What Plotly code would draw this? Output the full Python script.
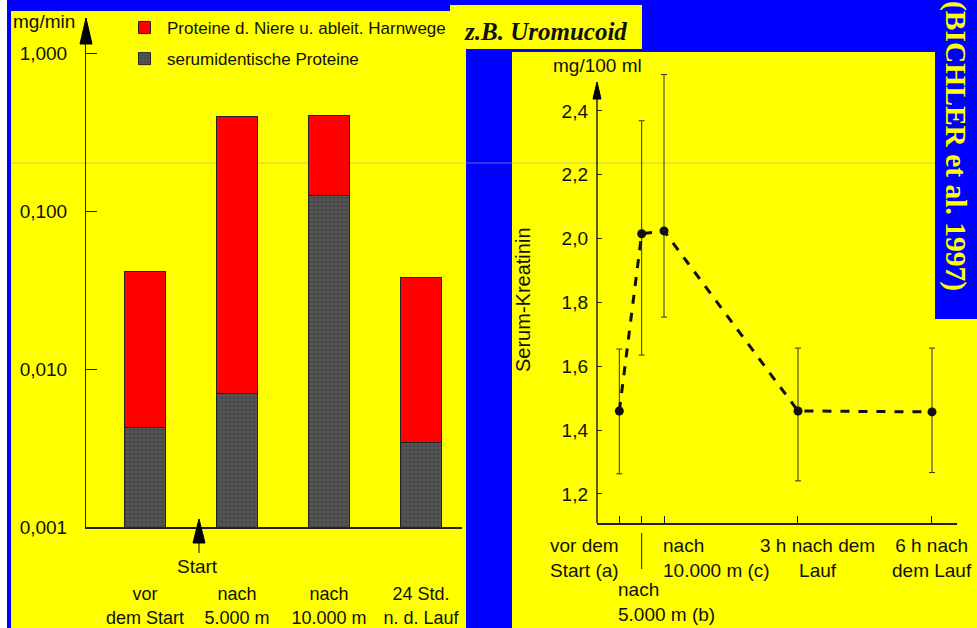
import plotly.graph_objects as go

W, H = 977, 628
BLUE = "#0000FF"
YELLOW = "#FFFF00"
INK = "#111111"
SANS = "Liberation Sans, Arial, sans-serif"
SERIF = "Liberation Serif, Times New Roman, serif"


def px(x):
    return x / W


def py(y):
    return 1 - y / H


# ---------------- left chart data (mg/min, log scale) ----------------
categories = ["vor<br>dem Start", "nach<br>5.000 m", "nach<br>10.000 m", "24 Std.<br>n. d. Lauf"]
serum_proteins = [0.00424, 0.00695, 0.1245, 0.00345]      # serumidentische Proteine
kidney_proteins = [0.0369, 0.392, 0.280, 0.0343]          # Proteine d. Niere u. ableit. Harnwege
left_tickvals = [0.001, 0.01, 0.1, 1.0]
left_ticktext = ["0,001", "0,010", "0,100", "1,000"]

# ---------------- right chart data (Serum-Kreatinin, mg/100 ml) ----------------
time_h = [-1.0, -0.5, 0.0, 3.0, 6.0]
creatinine = [1.46, 2.015, 2.024, 1.46, 1.457]
err_plus = [0.194, 0.354, 0.49, 0.197, 0.20]
err_minus = [0.197, 0.38, 0.27, 0.219, 0.19]
right_tickvals = [1.2, 1.4, 1.6, 1.8, 2.0, 2.2, 2.4]
right_ticktext = ["1,2", "1,4", "1,6", "1,8", "2,0", "2,2", "2,4"]
time_labels = ["vor dem<br>Start (a)", "nach<br>5.000 m (b)", "nach<br>10.000 m (c)",
               "3 h nach dem<br>Lauf", "6 h nach<br>dem Lauf"]

fig = go.Figure()

fig.add_trace(go.Bar(
    x=categories, y=serum_proteins, name="serumidentische Proteine",
    marker=dict(color="#4c4c4c", line=dict(color="#222", width=1),
                pattern=dict(shape=".", fgcolor="#6c6c6c", bgcolor="#4a4a4a",
                             size=4, solidity=0.35)),
    width=0.45, legendgroup="g2", legendrank=2, xaxis="x", yaxis="y",
))
fig.add_trace(go.Bar(
    x=categories, y=kidney_proteins, name="Proteine d. Niere u. ableit. Harnwege",
    marker=dict(color="#FF0000", line=dict(color="#222", width=1)),
    width=0.45, legendgroup="g1", legendrank=1, xaxis="x", yaxis="y",
))

fig.add_trace(go.Scatter(
    x=time_h, y=creatinine, mode="lines+markers", showlegend=False,
    line=dict(color="#111", width=3, dash="dash"),
    marker=dict(color="#111", size=9),
    error_y=dict(type="data", array=err_plus, arrayminus=err_minus,
                 color="#333", thickness=1, width=3),
    xaxis="x2", yaxis="y2", cliponaxis=False,
))

shapes = [
    # white strip on the far left
    dict(type="rect", xref="paper", yref="paper", x0=px(0), x1=px(7), y0=py(628), y1=py(0),
         fillcolor="white", line=dict(width=0), layer="below"),
    # left yellow panel
    dict(type="rect", xref="paper", yref="paper", x0=px(11), x1=px(466), y0=py(628), y1=py(11),
         fillcolor=YELLOW, line=dict(width=0), layer="below"),
    # title box
    dict(type="rect", xref="paper", yref="paper", x0=px(450), x1=px(642), y0=py(49), y1=py(5),
         fillcolor=YELLOW, line=dict(width=0), layer="below"),
    # right yellow panel
    dict(type="rect", xref="paper", yref="paper", x0=px(512), x1=px(935), y0=py(628), y1=py(52),
         fillcolor=YELLOW, line=dict(width=0), layer="below"),
    dict(type="rect", xref="paper", yref="paper", x0=px(934), x1=px(977), y0=py(628), y1=py(319),
         fillcolor=YELLOW, line=dict(width=0), layer="below"),
    # faint horizontal scan line
    dict(type="line", xref="paper", yref="paper", x0=px(11), x1=px(935), y0=py(163), y1=py(163),
         line=dict(color="rgba(170,170,150,0.6)", width=1), layer="below"),
    # left y-axis arrowhead
    dict(type="path", xref="paper", yref="paper",
         path=f"M {px(86)} {py(18)} L {px(80)} {py(44)} L {px(92)} {py(44)} Z",
         fillcolor="black", line=dict(color="black", width=1)),
    # Start arrow
    dict(type="path", xref="paper", yref="paper",
         path=f"M {px(199)} {py(519)} L {px(193)} {py(543)} L {px(205)} {py(543)} Z",
         fillcolor="black", line=dict(color="black", width=1)),
    dict(type="line", xref="paper", yref="paper", x0=px(199), x1=px(199), y0=py(543), y1=py(553),
         line=dict(color="black", width=1)),
    # right y-axis line and arrowhead
    dict(type="line", xref="paper", yref="paper", x0=px(597), x1=px(597), y0=py(523), y1=py(96),
         line=dict(color="#222", width=1.5)),
    dict(type="path", xref="paper", yref="paper",
         path=f"M {px(597)} {py(82)} L {px(593)} {py(99)} L {px(601)} {py(99)} Z",
         fillcolor="black", line=dict(color="black", width=1)),
    # separator tick under label (b)
    dict(type="line", xref="x2", yref="paper", x0=time_h[1], x1=time_h[1], y0=py(533), y1=py(569),
         line=dict(color="#222", width=1)),
]

annotations = [
    dict(text="mg/min", xref="paper", yref="paper", x=px(11), y=py(21), xanchor="left",
         yanchor="middle", showarrow=False, font=dict(size=19, color=INK, family=SANS)),
    dict(text="Start", xref="paper", yref="paper", x=px(197), y=py(566), xanchor="center",
         yanchor="middle", showarrow=False, font=dict(size=19, color=INK, family=SANS)),
    dict(text="mg/100 ml", xref="paper", yref="paper", x=px(551), y=py(66), xanchor="left",
         yanchor="middle", showarrow=False, font=dict(size=19, color=INK, family=SANS)),
    dict(text="Serum-Kreatinin", xref="paper", yref="paper", x=px(523), y=py(300),
         xanchor="center", yanchor="middle", textangle=-90, showarrow=False,
         font=dict(size=20, color=INK, family=SANS)),
    dict(text="<b><i>z.B. Uromucoid</i></b>", xref="paper", yref="paper", x=px(545), y=py(31),
         xanchor="center", yanchor="middle", showarrow=False,
         font=dict(size=25, color=INK, family=SERIF)),
    dict(text="<b>(BICHLER et al. 1997)</b>", xref="paper", yref="paper", x=px(956), y=py(146),
         xanchor="center", yanchor="middle", textangle=90, showarrow=False,
         font=dict(size=29.5, color=YELLOW, family=SERIF)),
    # right x labels
    dict(text=time_labels[0], xref="x2", yref="paper", x=time_h[0], y=py(533), xanchor="right",
         yanchor="top", align="left", showarrow=False, xshift=2,
         font=dict(size=19, color=INK, family=SANS)),
    dict(text=time_labels[1], xref="x2", yref="paper", x=time_h[1], y=py(577), xanchor="left",
         yanchor="top", align="left", showarrow=False, xshift=-26,
         font=dict(size=19, color=INK, family=SANS)),
    dict(text=time_labels[2], xref="x2", yref="paper", x=time_h[2], y=py(533), xanchor="left",
         yanchor="top", align="left", showarrow=False, xshift=-3,
         font=dict(size=19, color=INK, family=SANS)),
    dict(text=time_labels[3], xref="x2", yref="paper", x=time_h[3], y=py(533), xanchor="center",
         yanchor="top", align="center", showarrow=False, xshift=20,
         font=dict(size=19, color=INK, family=SANS)),
    dict(text=time_labels[4], xref="x2", yref="paper", x=time_h[4], y=py(533), xanchor="center",
         yanchor="top", align="center", showarrow=False, xshift=0,
         font=dict(size=19, color=INK, family=SANS)),
]

fig.update_layout(
    width=W, height=H,
    margin=dict(l=0, r=0, t=0, b=0, pad=0, autoexpand=False),
    paper_bgcolor=BLUE, plot_bgcolor="rgba(0,0,0,0)",
    barmode="stack", bargap=0.5,
    font=dict(family=SANS, color=INK),
    showlegend=True,
    legend=dict(x=px(122), y=py(10), xanchor="left", yanchor="top",
                bgcolor="rgba(0,0,0,0)", font=dict(size=17, color=INK, family=SANS),
                traceorder="grouped", tracegroupgap=6, itemwidth=35),
    xaxis=dict(domain=[px(86), px(462)], anchor="y", type="category", automargin=False,
               range=[-0.641, 3.446], showline=True, linecolor="#222", linewidth=1.5,
               ticks="", showgrid=False, zeroline=False,
               tickfont=dict(size=18, color=INK, family=SANS), ticklabelstandoff=50),
    yaxis=dict(domain=[py(527), py(18)], anchor="x", type="log", automargin=False,
               range=[-3, 0.2215], showline=True, linecolor="#222", linewidth=1,
               ticks="inside", ticklen=11, tickcolor="#222",
               tickvals=left_tickvals, ticktext=left_ticktext, showgrid=False, zeroline=False,
               tickfont=dict(size=19, color=INK, family=SANS), ticklabelstandoff=14),
    xaxis2=dict(domain=[px(597), px(957)], anchor="y2", range=[-1.5, 6.56], automargin=False,
                showline=True, linecolor="#222", linewidth=2,
                ticks="inside", ticklen=7, tickcolor="#222", tickvals=time_h,
                showticklabels=False, showgrid=False, zeroline=False),
    yaxis2=dict(domain=[py(523), py(70)], anchor="x2", range=[1.109, 2.528], automargin=False,
                showline=False, ticks="inside", ticklen=5, tickcolor="#222",
                tickvals=right_tickvals, ticktext=right_ticktext,
                showgrid=False, zeroline=False,
                tickfont=dict(size=19, color=INK, family=SANS), ticklabelstandoff=8),
    shapes=shapes,
    annotations=annotations,
)

fig.write_html("out.html")
